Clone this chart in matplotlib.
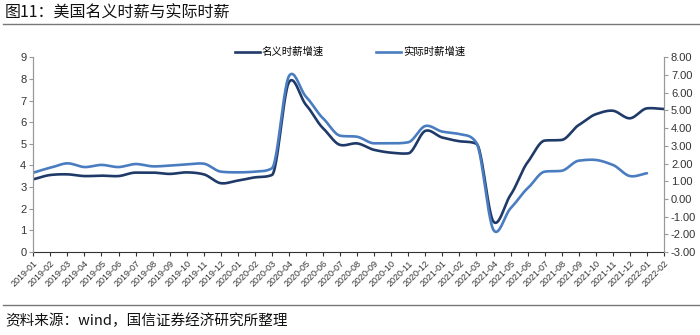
import numpy as np
import matplotlib
matplotlib.use('Agg')
import matplotlib.pyplot as plt
from matplotlib.lines import Line2D
from matplotlib.ticker import FormatStrFormatter

plt.rcParams['font.family'] = ['Liberation Sans', 'Noto Sans CJK SC', 'DejaVu Sans']
plt.rcParams['axes.unicode_minus'] = False

# 月份标签
months = ['2019-01', '2019-02', '2019-03', '2019-04', '2019-05', '2019-06',
          '2019-07', '2019-08', '2019-09', '2019-10', '2019-11', '2019-12',
          '2020-01', '2020-02', '2020-03', '2020-04', '2020-05', '2020-06',
          '2020-07', '2020-08', '2020-09', '2020-10', '2020-11', '2020-12',
          '2021-01', '2021-02', '2021-03', '2021-04', '2021-05', '2021-06',
          '2021-07', '2021-08', '2021-09', '2021-10', '2021-11', '2021-12',
          '2022-01', '2022-02']

# 名义时薪增速（左轴）
nominal = [3.36, 3.56, 3.59, 3.51, 3.53, 3.51, 3.67, 3.67, 3.61, 3.68, 3.59, 3.18,
           3.30, 3.45, 3.56, 7.85, 6.80, 5.72, 4.95, 5.02, 4.72, 4.59, 4.56, 5.60,
           5.29, 5.12, 5.00, 1.40, 2.64, 4.15, 5.15, 5.18, 5.87, 6.37, 6.53, 6.18,
           6.64, 6.61]

# 实际时薪增速（右轴），到2022-01为止
real = [1.48, 1.76, 2.01, 1.80, 1.92, 1.80, 1.97, 1.84, 1.88, 1.95, 1.99, 1.54,
        1.50, 1.54, 1.73, 6.94, 5.77, 4.55, 3.57, 3.51, 3.14, 3.14, 3.20, 4.12,
        3.80, 3.66, 3.16, -1.76, -0.53, 0.60, 1.54, 1.59, 2.16, 2.20, 1.92, 1.29,
        1.45]

DARK = '#1f3a68'
LIGHT = '#4a7cc0'


def smooth(x, y, n=24, k=0.4):
    # 三次 Hermite 平滑曲线，切线限幅以免在陡升陡降前出现回弯
    x = np.asarray(x, float)
    y = np.asarray(y, float)
    d = np.diff(y)
    m = np.zeros_like(y)
    m[1:-1] = k * (y[2:] - y[:-2])
    lim = 3 * np.minimum(np.abs(d[:-1]), np.abs(d[1:]))
    m[1:-1] = np.clip(m[1:-1], -lim, lim)
    m[0] = d[0]
    m[-1] = d[-1]
    t = np.linspace(0, 1, n, endpoint=False)
    h00 = 2 * t ** 3 - 3 * t ** 2 + 1
    h10 = t ** 3 - 2 * t ** 2 + t
    h01 = -2 * t ** 3 + 3 * t ** 2
    h11 = t ** 3 - t ** 2
    xs, ys = [], []
    for i in range(len(y) - 1):
        xs.append(x[i] + t * (x[i + 1] - x[i]))
        ys.append(h00 * y[i] + h10 * m[i] + h01 * y[i + 1] + h11 * m[i + 1])
    xs.append([x[-1]])
    ys.append([y[-1]])
    return np.concatenate(xs), np.concatenate(ys)


fig = plt.figure(figsize=(7, 3.35), dpi=100)
ax = fig.add_axes([33.3 / 700, 1 - 252 / 335, (664 - 33.3) / 700, (252 - 57.3) / 335])
ax2 = ax.twinx()

x1 = np.arange(len(nominal))
x2 = np.arange(len(real))
sx, sy = smooth(x1, nominal)
ax.plot(sx, sy, color=DARK, lw=1.9, solid_capstyle='round')
rx, ry = smooth(x2, real)
ax2.plot(rx, ry, color=LIGHT, lw=1.9, solid_capstyle='round')

ax.set_xlim(0, len(months) - 1)
ax.set_ylim(0, 9)
ax.set_yticks(range(0, 10))
ax2.set_ylim(-3, 8)
ax2.set_yticks(range(-3, 9))
ax2.yaxis.set_major_formatter(FormatStrFormatter('%.2f'))

ax.set_xticks(range(len(months)))
ax.set_xticklabels(months, rotation=45, ha='right', rotation_mode='anchor', fontsize=6.5, color='#333333')

for a in (ax, ax2):
    a.spines['top'].set_visible(False)
    a.spines['left'].set_color('#999999')
    a.spines['right'].set_color('#999999')
    a.spines['bottom'].set_color('#333333')
    a.tick_params(axis='y', labelsize=8, colors='#999999', labelcolor='#333333', length=3, width=0.8)
ax2.spines['bottom'].set_visible(False)
ax.tick_params(axis='x', length=3, width=0.8, colors='#333333', pad=2)
ax.tick_params(axis='y', pad=2)
ax2.tick_params(axis='y', pad=2)

# 图例
handles = [Line2D([], [], color=DARK, lw=1.9), Line2D([], [], color=LIGHT, lw=1.9)]
fig.legend(handles, ['名义时薪增速', '实际时薪增速'], loc='center', ncol=2,
           bbox_to_anchor=(350 / 700, 1 - 52 / 335), frameon=False, fontsize=7.5,
           handlelength=2.4, handletextpad=0.2, columnspacing=5.0)

# 标题与来源
fig.text(5 / 700, 1 - 13 / 335, '图11：美国名义时薪与实际时薪', fontsize=11.5,
         family=['Noto Sans CJK SC', 'DejaVu Sans'], va='center', ha='left', color='#111111')
fig.add_artist(Line2D([3 / 700, 1], [1 - 24 / 335, 1 - 24 / 335], color='#777777', lw=1))
fig.add_artist(Line2D([3 / 700, 1], [1 - 305 / 335, 1 - 305 / 335], color='#777777', lw=1))
fig.text(5 / 700, 1 - 321 / 335, '资料来源：wind，国信证券经济研究所整理', fontsize=10.5,
         family=['Noto Sans CJK SC', 'DejaVu Sans'], va='center', ha='left', color='#111111')

fig.savefig('out.png', dpi=100)
